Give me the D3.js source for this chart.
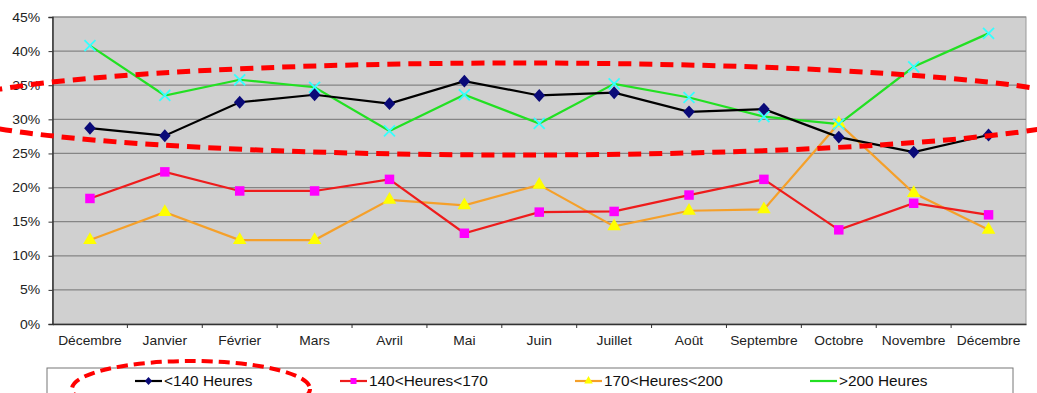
<!DOCTYPE html>
<html>
<head>
<meta charset="utf-8">
<script src="https://cdn.jsdelivr.net/npm/d3@7"></script>
<style>
  html, body { margin: 0; padding: 0; background: #fff; }
  svg { display: block; font-family: "Liberation Sans", Arial, sans-serif; }
</style>
</head>
<body>
<svg id="chart" width="1037" height="393"></svg>
<script>
// Monthly share of staff by hours worked
const months = ["Décembre", "Janvier", "Février", "Mars", "Avril", "Mai", "Juin",
                "Juillet", "Août", "Septembre", "Octobre", "Novembre", "Décembre"];
const under140   = [28.7, 27.6, 32.5, 33.6, 32.3, 35.6, 33.5, 33.9, 31.1, 31.5, 27.4, 25.2, 27.7];
const from140to170 = [18.4, 22.3, 19.5, 19.5, 21.2, 13.3, 16.4, 16.5, 18.9, 21.2, 13.8, 17.7, 16.0];
const from170to200 = [12.3, 16.4, 12.3, 12.3, 18.2, 17.4, 20.4, 14.3, 16.6, 16.8, 29.4, 19.2, 13.8];
const over200    = [40.8, 33.5, 35.8, 34.7, 28.3, 33.6, 29.4, 35.2, 33.2, 30.4, 29.3, 37.7, 42.6];
const yTicks = [0, 5, 10, 15, 20, 25, 30, 35, 40, 45];
const seriesNames = ["<140 Heures", "140<Heures<170", "170<Heures<200", ">200 Heures"];

const svg = d3.select("#chart");
const plot = { left: 52.5, right: 1026, top: 17, bottom: 324 };
const textStretch = "scale(1.15,1)";

const x = d3.scaleBand().domain(d3.range(months.length)).range([plot.left, plot.right]);
const y = d3.scaleLinear().domain([0, 45]).range([plot.bottom, plot.top]);
const cx = i => x(i) + x.bandwidth() / 2;

// a diamond a little wider than d3's default one
const wideDiamond = {
  draw(ctx, size) {
    const h = Math.sqrt(size) * 0.72, w = h * 0.9;
    ctx.moveTo(0, -h); ctx.lineTo(w, 0); ctx.lineTo(0, h); ctx.lineTo(-w, 0); ctx.closePath();
  }
};

// plot background
svg.append("rect")
  .attr("x", plot.left).attr("y", plot.top)
  .attr("width", plot.right - plot.left).attr("height", plot.bottom - plot.top)
  .attr("fill", "#d0d0d0").attr("stroke", "#999").attr("stroke-width", 1);

// horizontal gridlines
svg.append("g").selectAll("line").data(yTicks.filter(d => d > 0)).join("line")
  .attr("x1", plot.left).attr("x2", plot.right)
  .attr("y1", d => y(d)).attr("y2", d => y(d))
  .attr("stroke", "#858585").attr("stroke-width", 1.2);

// y axis
const yAxis = svg.append("g")
  .attr("transform", `translate(${plot.left},0)`)
  .call(d3.axisLeft(y).tickValues(yTicks).tickFormat(d => d + "%").tickSize(4).tickPadding(9));
yAxis.select(".domain").attr("stroke", "#333").attr("stroke-width", 1.5);
yAxis.selectAll(".tick line").attr("stroke", "#333");
yAxis.selectAll(".tick text")
  .attr("font-size", 12.5).attr("fill", "#222")
  .attr("font-family", "Liberation Sans, Arial, sans-serif")
  .attr("transform", "scale(1.12,1) translate(2,0)");

// x axis with ticks on category boundaries
const xAxis = svg.append("g")
  .attr("transform", `translate(0,${plot.bottom})`)
  .call(d3.axisBottom(x).tickFormat(i => months[i]).tickSize(0).tickPadding(12));
xAxis.select(".domain").attr("stroke", "#333").attr("stroke-width", 1.5);
xAxis.selectAll(".tick text")
  .attr("font-size", 12).attr("fill", "#222")
  .attr("font-family", "Liberation Sans, Arial, sans-serif")
  .attr("transform", textStretch);
svg.append("g").selectAll("line").data(d3.range(1, months.length)).join("line")
  .attr("x1", i => x(i)).attr("x2", i => x(i))
  .attr("y1", plot.bottom).attr("y2", plot.bottom + 4)
  .attr("stroke", "#333").attr("stroke-width", 1);

const line = d3.line().x((d, i) => cx(i)).y(d => y(d));

const series = [
  { name: seriesNames[0], values: under140,     line: "#000000", marker: "#0a0a78", symbol: wideDiamond,       size: 80, stroked: false },
  { name: seriesNames[1], values: from140to170, line: "#ee1c1c", marker: "#ff00ff", symbol: d3.symbolSquare,   size: 90, stroked: false },
  { name: seriesNames[2], values: from170to200, line: "#f5a02a", marker: "#ffff00", symbol: d3.symbolTriangle, size: 80, stroked: false },
  { name: seriesNames[3], values: over200,      line: "#22e022", marker: "#33ffff", symbol: d3.symbolX,        size: 80, stroked: true }
];

// draw order: lower bands first, top series last
const drawOrder = [series[2], series[1], series[3], series[0]];
drawOrder.forEach(s => {
  svg.append("path").datum(s.values)
    .attr("d", line).attr("fill", "none")
    .attr("stroke", s.line).attr("stroke-width", 2.2);
});
drawOrder.forEach(s => {
  const sym = d3.symbol().type(s.symbol).size(s.size);
  svg.append("g").selectAll("path").data(s.values).join("path")
    .attr("transform", (d, i) => `translate(${cx(i)},${y(d)})`)
    .attr("d", sym)
    .attr("fill", s.stroked ? "none" : s.marker)
    .attr("stroke", s.stroked ? s.marker : "none")
    .attr("stroke-width", s.stroked ? 1.8 : 0);
});

// legend
svg.append("rect")
  .attr("x", 47).attr("y", 368).attr("width", 966).attr("height", 40)
  .attr("fill", "#fff").attr("stroke", "#777").attr("stroke-width", 1);
const legendX = [135, 340, 575, 810];
series.forEach((s, k) => {
  const g = svg.append("g").attr("transform", `translate(${legendX[k]},381)`);
  g.append("line").attr("x1", 0).attr("x2", 27).attr("y1", 0).attr("y2", 0)
    .attr("stroke", s.line).attr("stroke-width", 2.2);
  if (!s.stroked) {
    g.append("path").attr("transform", "translate(13.5,0)")
      .attr("d", d3.symbol().type(s.symbol).size(s.size * 0.4))
      .attr("fill", s.marker);
  }
  g.append("text").attr("x", 29).attr("y", 0).attr("dy", "0.36em")
    .attr("font-size", 14).attr("fill", "#111")
    .attr("transform", "translate(29,0) scale(1.1,1) translate(-29,0)")
    .text(s.name);
});

// red dashed highlight marks
svg.append("ellipse")
  .attr("cx", 520).attr("cy", 109).attr("rx", 577).attr("ry", 46)
  .attr("fill", "none").attr("stroke", "#ff0000").attr("stroke-width", 5)
  .attr("stroke-dasharray", "13 8");
svg.append("ellipse")
  .attr("cx", 191).attr("cy", 389).attr("rx", 119).attr("ry", 28)
  .attr("fill", "none").attr("stroke", "#ff0000").attr("stroke-width", 4)
  .attr("stroke-dasharray", "11 6");
</script>
</body>
</html>
